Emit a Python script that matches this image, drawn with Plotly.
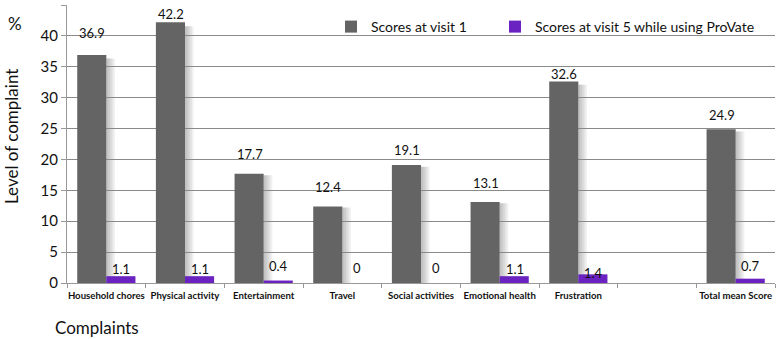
import plotly.graph_objects as go

categories = ["Household chores", "Physical activity", "Entertainment", "Travel",
              "Social activities", "Emotional health", "Frustration", " ", "Total mean Score"]
visit1 = [36.9, 42.2, 17.7, 12.4, 19.1, 13.1, 32.6, None, 24.9]
visit5 = [1.1, 1.1, 0.4, 0, 0, 1.1, 1.4, None, 0.7]
y_ticks = [0, 5, 10, 15, 20, 25, 30, 35, 40, 45]

# label offsets (pixels above bar top) mimicking the original placement
off1 = [22, 8, 20, 19, 15, 19, 8, 0, 14]
off5 = [7, 7, 15, 15, 15, 7, 1, 0, 13]

GRAY = "#646464"
PURPLE = "#6a22c0"
FONT = "Lato"
BARGAP = 0.26

fig = go.Figure()
fig.add_trace(go.Bar(x=categories, y=visit1, name="Scores at visit 1", legend="legend",
                     marker=dict(color=GRAY, line=dict(width=0))))
fig.add_trace(go.Bar(x=categories, y=visit5, name="Scores at visit 5 while using ProVate",
                     legend="legend2", marker=dict(color=PURPLE, line=dict(width=0))))

# soft shadow on the right side of the grey bars
shapes = []
for i, v in enumerate(visit1):
    if v is None:
        continue
    for k in range(1, 6):
        shapes.append(dict(type="rect", xref="x", yref="y", layer="below",
                           x0=i, x1=i + 0.022 * k, y0=0, y1=v * 0.985,
                           fillcolor="rgba(80,80,80,0.08)", line=dict(width=0)))

ann = []
for c, v, o in zip(categories, visit1, off1):
    if v is None:
        continue
    ann.append(dict(x=c, y=v, xref="x", yref="y", text=f"{v:g}", showarrow=False,
                    xshift=-14, yshift=o, font=dict(family=FONT, size=13, color="#111")))
for c, v, o in zip(categories, visit5, off5):
    if v is None:
        continue
    ann.append(dict(x=c, y=v, xref="x", yref="y", text=f"{v:g}", showarrow=False,
                    xshift=15, yshift=o, font=dict(family=FONT, size=13, color="#111")))

W, H = 778, 339
L, R, T, B = 67, 3, 5, 56
pw, ph = W - L - R, H - T - B

def px_x(x):
    return (x - L) / pw

def px_y(y):
    return 1 - (y - T) / ph

def px_ann(x, y, text, **kw):
    d = dict(x=px_x(x), y=px_y(y), xref="paper", yref="paper",
             text=text, showarrow=False, xanchor="center", yanchor="middle",
             font=dict(family=FONT, size=17, color="#111"))
    d.update(kw)
    return d

ann.append(px_ann(11, 136, "Level of complaint", textangle=-90))
ann.append(px_ann(15, 23, "%"))
ann.append(px_ann(97, 327, "Complaints"))

leg_common = dict(orientation="h", xanchor="left", yanchor="middle",
                  font=dict(family=FONT, size=14, color="#111"),
                  bgcolor="rgba(0,0,0,0)", itemwidth=30)

fig.update_layout(
    width=W, height=H,
    margin=dict(l=L, r=R, t=T, b=B),
    paper_bgcolor="white", plot_bgcolor="white",
    barmode="group", bargap=BARGAP, bargroupgap=0,
    font=dict(family=FONT, color="#111"),
    showlegend=True,
    legend=dict(x=px_x(331), y=px_y(27), **leg_common),
    legend2=dict(x=px_x(495), y=px_y(27), **leg_common),
    annotations=ann,
    shapes=shapes,
)
fig.update_xaxes(
    showline=True, linecolor="#999", linewidth=1,
    ticks="outside", tickson="boundaries", ticklen=4, tickcolor="#999",
    tickfont=dict(family=FONT, size=9.6, color="#111", weight="bold"),
    ticklabelstandoff=3,
    tickangle=0, automargin=False, showgrid=False,
)
fig.update_yaxes(
    range=[0, 45], tickvals=y_ticks, showgrid=True, gridcolor="#8a8a8a", gridwidth=1,
    showline=True, linecolor="#999", linewidth=1, ticks="outside", ticklen=5,
    tickcolor="#999", tickfont=dict(family=FONT, size=15, color="#111"),
    automargin=False, zeroline=False,
)
fig.write_html("out.html", config={"displayModeBar": False},
               post_script="document.body.style.margin='0';")
